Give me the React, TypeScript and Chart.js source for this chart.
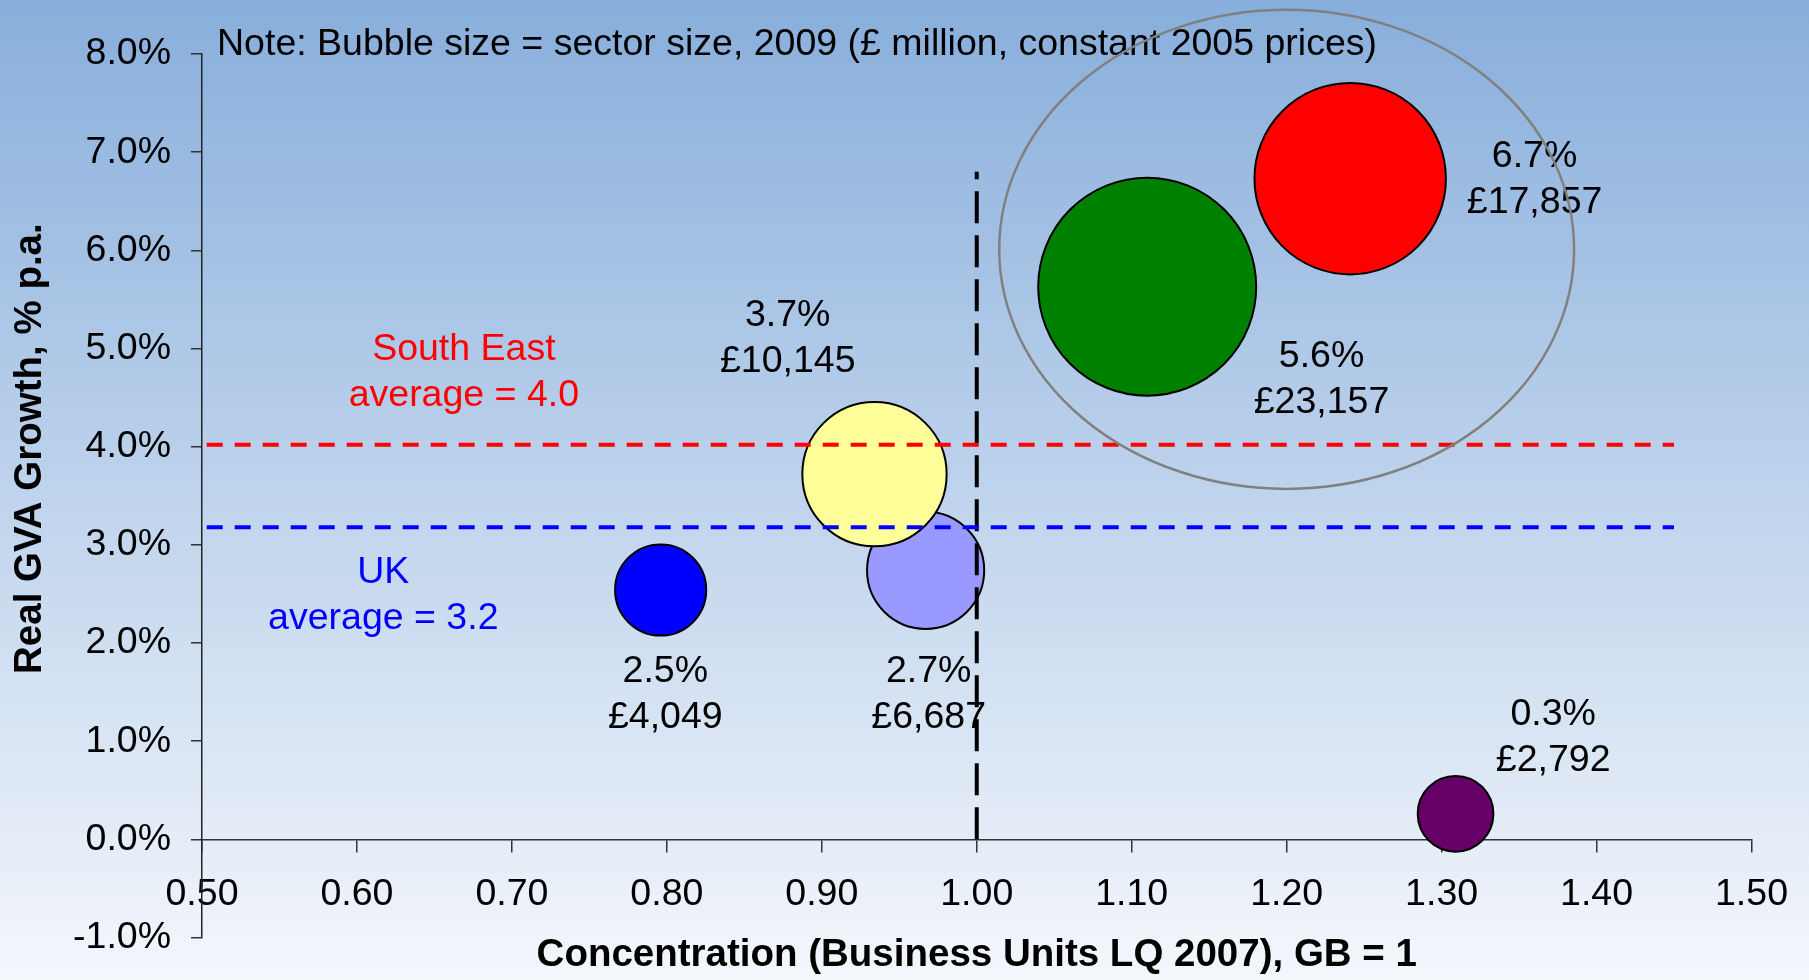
import React, { useEffect, useRef } from 'react';
import { Chart, registerables } from 'chart.js';

Chart.register(...registerables);

// ---- Data ----
const concentration = [0.796, 0.967, 0.934, 1.11, 1.241, 1.309]; // Business Units LQ 2007, GB = 1
const growth = [2.54, 2.74, 3.72, 5.63, 6.73, 0.26]; // Real GVA growth, % p.a.
const sectorSize = [4049, 6687, 10145, 23157, 17857, 2792]; // £ million, 2009
const bubbleColors = ['#0000FF', '#9999FF', '#FFFF99', '#008000', '#FF0000', '#660066'];

// data-label anchors (data units)
const labelX = [0.799, 0.969, 0.878, 1.2225, 1.36, 1.372];
const labelY = [1.47, 1.47, 5.1, 4.68, 6.72, 1.04];

const southEastAverage = 4.02;
const ukAverage = 3.18;
const averageLineX = [0.5, 1.45];
const gbConcentration = 1.0;
const dividerY = [0, 6.8];

const xRange = [0.5, 1.5, 0.1];
const yRange = [-1, 8, 1];

const highlightEllipse = [1.2, 6.01, 0.1855, 2.44]; // cx, cy, rx, ry (data units)
const southEastLabel = ['South East', `average = ${southEastAverage.toFixed(1)}`];
const southEastLabelPos = [0.669, 4.75];
const ukLabel = ['UK', `average = ${ukAverage.toFixed(1)}`];
const ukLabelPos = [0.617, 2.48];
const noteText = 'Note: Bubble size = sector size, 2009 (£ million, constant 2005 prices)';
const notePos = [0.5097, 8.1];
const xTitle = 'Concentration (Business Units LQ 2007), GB = 1';
const yTitle = 'Real GVA Growth, % p.a.';
const yTitleCenter = 3.98;

const FONT = '"Liberation Sans", Arial, Helvetica, sans-serif';
const TEXT_SIZE = 37.5;
const TITLE_SIZE = 38.5;
const MAX_R = 109;
const maxSize = Math.max(...sectorSize);

const fmtMoney = (v: number) => '£' + String(v).replace(/\B(?=(\d{3})+(?!\d))/g, ',');

const decorPlugin = {
  id: 'decor',
  beforeDraw(chart: any) {
    const { ctx, width, height } = chart;
    const g = ctx.createLinearGradient(0, 0, 0, height);
    g.addColorStop(0, '#88aedb');
    g.addColorStop(0.5, '#bed3ec');
    g.addColorStop(1, '#f4f7fc');
    ctx.save();
    ctx.fillStyle = g;
    ctx.fillRect(0, 0, width, height);
    ctx.restore();
  },
  afterDatasetsDraw(chart: any) {
    const { ctx } = chart;
    const xs = chart.scales.x;
    const ys = chart.scales.y;
    const lineH = 46;
    const drawLines = (lines: string[], x: number, y: number, color: string) => {
      const px = xs.getPixelForValue(x);
      const py = ys.getPixelForValue(y);
      ctx.fillStyle = color;
      ctx.textAlign = 'center';
      ctx.textBaseline = 'middle';
      const n = lines.length;
      lines.forEach((t, i) => {
        ctx.fillText(t, px, py + (i - (n - 1) / 2) * lineH);
      });
    };
    ctx.save();
    ctx.font = `${TEXT_SIZE}px ${FONT}`;
    growth.forEach((g, i) => {
      drawLines([`${g.toFixed(1)}%`, fmtMoney(sectorSize[i])], labelX[i], labelY[i], '#000');
    });
    drawLines(southEastLabel, southEastLabelPos[0], southEastLabelPos[1], '#FF0000');
    drawLines(ukLabel, ukLabelPos[0], ukLabelPos[1], '#0000FF');

    // note
    ctx.fillStyle = '#000';
    ctx.textAlign = 'left';
    ctx.textBaseline = 'middle';
    ctx.fillText(noteText, xs.getPixelForValue(notePos[0]), ys.getPixelForValue(notePos[1]));

    // y title
    ctx.save();
    ctx.font = `bold ${TITLE_SIZE}px ${FONT}`;
    ctx.translate(30, ys.getPixelForValue(yTitleCenter));
    ctx.rotate(-Math.PI / 2);
    ctx.textAlign = 'center';
    ctx.textBaseline = 'middle';
    ctx.fillText(yTitle, 0, 0);
    ctx.restore();

    // highlight ellipse
    const [cx, cy, rx, ry] = highlightEllipse;
    const pcx = xs.getPixelForValue(cx);
    const pcy = ys.getPixelForValue(cy);
    const prx = Math.abs(xs.getPixelForValue(cx + rx) - pcx);
    const pry = Math.abs(ys.getPixelForValue(cy + ry) - pcy);
    ctx.beginPath();
    ctx.ellipse(pcx, pcy, prx, pry, 0, 0, Math.PI * 2);
    ctx.strokeStyle = '#808080';
    ctx.lineWidth = 2.5;
    ctx.stroke();
    ctx.restore();
  },
};

export default function App() {
  const ref = useRef<HTMLCanvasElement>(null);
  useEffect(() => {
    document.body.style.margin = '0';
    Chart.defaults.font.family = FONT;
    Chart.defaults.color = '#000';
    const chart = new Chart(ref.current as HTMLCanvasElement, {
      type: 'bubble',
      data: {
        datasets: [
          {
            type: 'line',
            label: 'South East average',
            data: averageLineX.map((x) => ({ x, y: southEastAverage })),
            borderColor: '#FF0000',
            borderWidth: 4,
            borderDash: [16, 12],
            borderDashOffset: 23.3,
            borderCapStyle: 'butt',
            pointRadius: 0,
            fill: false,
          },
          {
            type: 'line',
            label: 'UK average',
            data: averageLineX.map((x) => ({ x, y: ukAverage })),
            borderColor: '#0000FF',
            borderWidth: 4,
            borderDash: [16, 12],
            borderDashOffset: 23.3,
            borderCapStyle: 'butt',
            pointRadius: 0,
            fill: false,
          },
          {
            type: 'line',
            label: 'GB = 1',
            data: dividerY.map((y) => ({ x: gbConcentration, y })),
            borderColor: '#000000',
            borderWidth: 4,
            borderDash: [32, 12],
            borderCapStyle: 'butt',
            pointRadius: 0,
            fill: false,
          },
          {
            type: 'bubble',
            label: 'Sectors',
            data: concentration.map((x, i) => ({
              x,
              y: growth[i],
              r: MAX_R * Math.sqrt(sectorSize[i] / maxSize),
            })),
            backgroundColor: bubbleColors,
            borderColor: '#000000',
            borderWidth: 2,
            hoverRadius: 0,
          } as any,
        ],
      },
      options: {
        animation: false,
        responsive: false,
        devicePixelRatio: 1,
        layout: { autoPadding: false, padding: { left: 0, top: 54, right: 54, bottom: 37 } },
        plugins: { legend: { display: false }, tooltip: { enabled: false } },
        events: [],
        scales: {
          x: {
            type: 'linear',
            position: { y: 0 } as any,
            min: xRange[0],
            max: xRange[1],
            ticks: {
              stepSize: xRange[2],
              callback: (v: any) => Number(v).toFixed(2),
              font: { size: TEXT_SIZE },
              color: '#000',
              padding: 21,
              maxRotation: 0,
              autoSkip: false,
            },
            grid: { drawOnChartArea: false, drawTicks: true, tickLength: 12, color: '#333', lineWidth: 1.5 },
            border: { display: true, color: '#333', width: 1.5 },
            title: {
              display: true,
              text: xTitle,
              font: { size: TITLE_SIZE, weight: 'bold' },
              color: '#000',
              padding: { top: 0, bottom: -138.8 },
            },
            afterFit: (s: any) => {
              s.height = 0;
            },
          },
          y: {
            type: 'linear',
            position: 'left',
            min: yRange[0],
            max: yRange[1],
            ticks: {
              stepSize: yRange[2],
              callback: (v: any) => Number(v).toFixed(1) + '%',
              font: { size: TEXT_SIZE },
              color: '#000',
              padding: 20,
            },
            grid: { drawOnChartArea: false, drawTicks: true, tickLength: 11, color: '#333', lineWidth: 1.5 },
            border: { display: true, color: '#222', width: 1.5 },
            afterFit: (s: any) => {
              s.width = 202;
            },
          },
        },
      } as any,
      plugins: [decorPlugin],
    } as any);
    return () => chart.destroy();
  }, []);
  return (
    <canvas
      ref={ref}
      width={1809}
      height={980}
      style={{ display: 'block', width: 1809, height: 980 }}
    />
  );
}
